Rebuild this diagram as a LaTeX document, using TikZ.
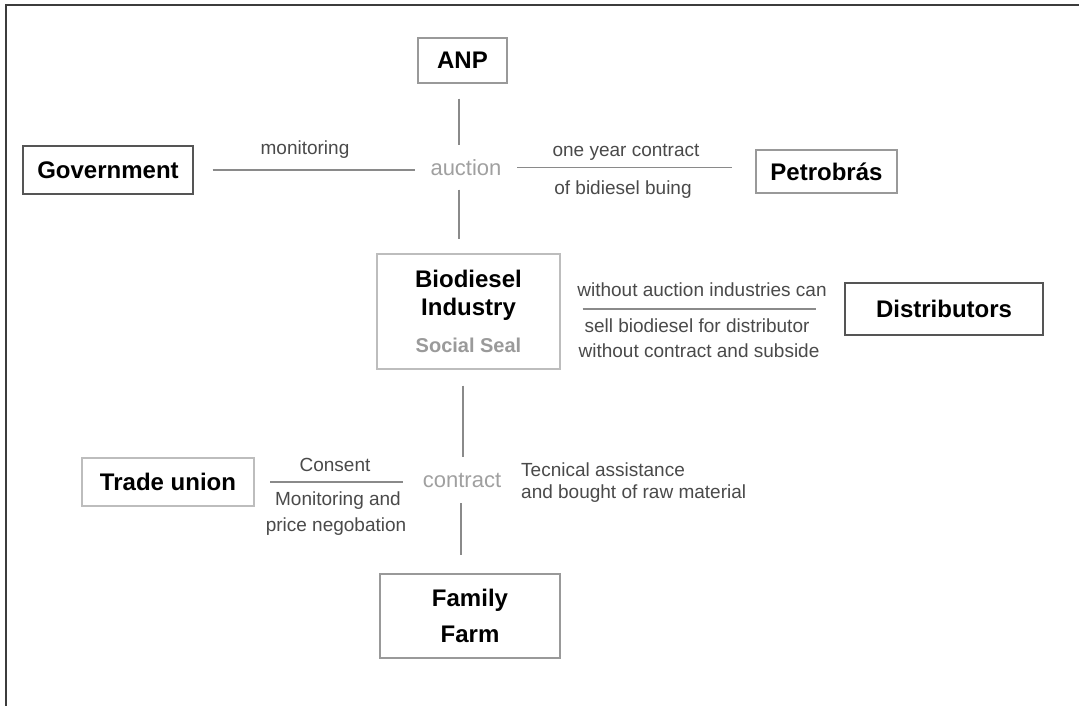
\documentclass[tikz,border=0pt]{standalone}
\usepackage{fontspec}
\setmainfont{Liberation Sans}
\definecolor{linec}{HTML}{8A8A8A}
\definecolor{midc}{HTML}{A0A0A0}
\definecolor{labc}{HTML}{4A4A4A}
\definecolor{lightb}{HTML}{BDBDBD}
\definecolor{midb}{HTML}{999999}
\definecolor{darkb}{HTML}{555555}
\definecolor{sealc}{HTML}{9A9A9A}
\begin{document}
\begin{tikzpicture}[x=1pt,y=-1pt,
  box/.style={draw=#1, line width=1.3pt, inner sep=0pt, align=center,
    font=\fontsize{24}{28}\selectfont\bfseries},
  hub/.style={inner sep=0pt, text=midc, font=\fontsize{22}{26}\selectfont},
  lab/.style={inner sep=0pt, text=labc, font=\fontsize{19}{22}\selectfont},
  link/.style={draw=linec, line width=1.4pt}]
\useasboundingbox (0,0) rectangle (1079,706);
\fill[white] (0,0) rectangle (1079,706);
% frame
\draw[line width=2pt, color=darkb!70!black] (1079,5) -- (6,5) -- (6,706);

% boxes
\node[box=midb, minimum width=89pt, minimum height=45pt] (anp) at (462.5,60.5) {ANP};
\node[box=darkb, minimum width=170pt, minimum height=48pt] (gov) at (108,170) {Government};
\node[box=midb, minimum width=141pt, minimum height=43pt] (petro) at (826.5,171.5) {Petrobrás};
\node[box=lightb, minimum width=183pt, minimum height=115pt] (bio) at (468.5,311.5)
  {Biodiesel\\Industry\\[8.5pt]{\fontsize{20}{24}\selectfont\color{sealc}Social Seal}};
\node[box=darkb, minimum width=198pt, minimum height=52pt] (dist) at (944,309) {Distributors};
\node[box=lightb, line width=2pt, minimum width=172pt, minimum height=48pt] (trade) at (168,482) {Trade union};
\node[box=midb, minimum width=180pt, minimum height=84pt, font=\fontsize{24}{36}\selectfont\bfseries] (farm) at (470,616) {Family\\Farm};

% hubs
\node[hub, minimum width=102pt, minimum height=44pt] (auction) at (466,167.5) {auction};
\node[hub, minimum width=118pt, minimum height=46pt] (contract) at (462,480) {contract};

% connectors
\draw[link, shorten <=15pt] ([xshift=-3.5pt]anp.south) -- ([xshift=-3.5pt]anp.south |- auction.north);
\draw[link, shorten >=14pt] ([xshift=-7pt]auction.south) -- ([xshift=-7pt]auction.south |- bio.north);
\draw[link, shorten <=19pt] (gov.east) -- (gov.east -| auction.west);
\draw[link, shorten >=23pt] (auction.east) -- (auction.east -| petro.west);
\draw[link, shorten <=22pt, shorten >=28pt] (dist.west -| bio.east) -- (dist.west);
\draw[link, shorten <=16pt] ([xshift=-5.5pt]bio.south) -- ([xshift=-5.5pt]bio.south |- contract.north);
\draw[link, shorten >=18pt] ([xshift=-9pt]farm.north |- contract.south) -- ([xshift=-9pt]farm.north);
\draw[link, shorten <=15pt] (trade.east) -- (trade.east -| contract.west);

% labels
\node[lab] (lmon) at (305,150) {monitoring};
\node[lab] (lone) at (626,152) {one year contract};
\node[lab] (lbuy) at (623,190) {of bidiesel buing};
\node[lab] (lwa) at (702,290) {without auction industries can};
\node[lab] (lsell) at (697,326) {sell biodiesel for distributor};
\node[lab] (lwc) at (699,351) {without contract and subside};
\node[lab] (lcons) at (335,465) {Consent};
\node[lab] (lmoni) at (338,501) {Monitoring and};
\node[lab] (lprice) at (336,527) {price negobation};
\node[lab, align=left, anchor=west, font=\fontsize{19}{22}\selectfont] (ltec) at (521,483)
  {Tecnical assistance\\and bought of raw material};
\end{tikzpicture}
\end{document}
